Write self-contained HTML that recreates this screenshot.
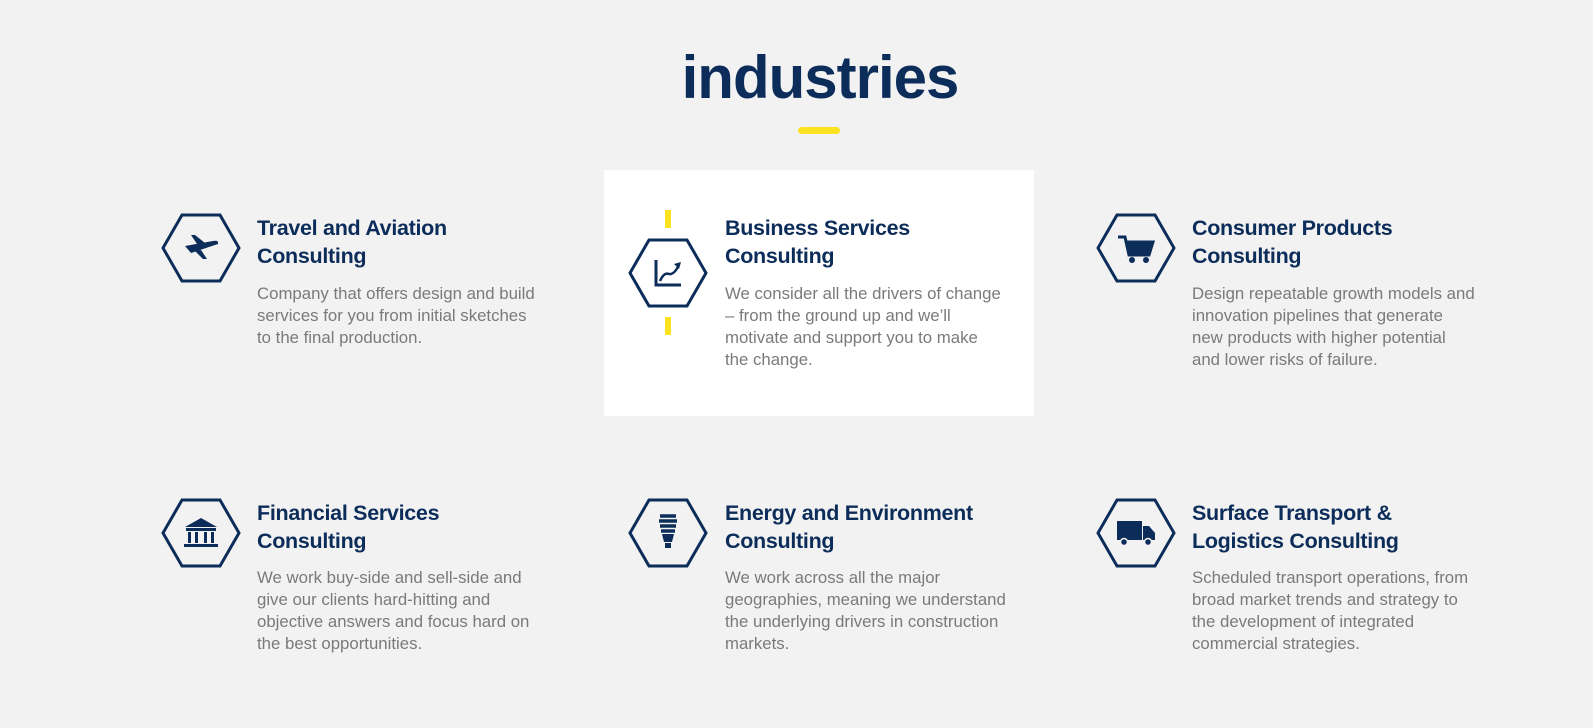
<!DOCTYPE html>
<html><head><meta charset="utf-8"><style>
*{margin:0;padding:0;box-sizing:border-box}
body{width:1593px;height:728px;background:#f2f2f2;position:relative;overflow:hidden;font-family:"Liberation Sans",sans-serif}
.t{position:absolute;left:0;width:1640px;text-align:center;top:43px;font-size:60px;font-weight:bold;color:#0c2c5a;letter-spacing:-1px}
.bar{position:absolute;left:798px;top:127px;width:42px;height:7px;border-radius:4px;background:#fbe321}
.card{position:absolute;left:604px;top:170px;width:430px;height:246px;background:#fff}
.hex{position:absolute;width:80px;height:70px}
.h{position:absolute;font-size:21.5px;font-weight:bold;color:#0c2c5a;line-height:28px;letter-spacing:-0.3px;width:340px}
.d{position:absolute;font-size:16.8px;color:#7a7a7a;line-height:22px;width:340px}
.y{position:absolute;width:6px;height:18px;background:#fbe321;left:665px}
</style></head><body>
<div class="t">industries</div>
<div class="bar"></div>
<div class="card"></div>
<div class="y" style="top:210px"></div>
<div class="y" style="top:317px"></div>

<svg class="hex" style="left:161px;top:213px" viewBox="0 0 80 70"><polygon points="21,2 59,2 78,35 59,68 21,68 2,35" fill="none" stroke="#0c2c5a" stroke-width="3"/><path d="M24,33 L52,28 Q58,27 57,31 L30,40 Z M36,31 L30,22 L34,22 L44,30 Z M40,37 L46,46 L42,46 L34,38 Z" fill="#0c2c5a"/></svg>
<div class="h" style="left:257px;top:214px">Travel and Aviation<br>Consulting</div>
<div class="d" style="left:257px;top:283px">Company that offers design and build<br>services for you from initial sketches<br>to the final production.</div>

<svg class="hex" style="left:628px;top:238px" viewBox="0 0 80 70"><polygon points="21,2 59,2 78,35 59,68 21,68 2,35" fill="none" stroke="#0c2c5a" stroke-width="3"/><path d="M28,22 V47 H53" fill="none" stroke="#0c2c5a" stroke-width="3"/><path d="M32,43 Q36,34 41,36 Q46,37 51,27" fill="none" stroke="#0c2c5a" stroke-width="2.5"/><path d="M46,26 L53,24 L51,31 Z" fill="#0c2c5a"/></svg>
<div class="h" style="left:725px;top:214px">Business Services<br>Consulting</div>
<div class="d" style="left:725px;top:283px">We consider all the drivers of change<br>– from the ground up and we’ll<br>motivate and support you to make<br>the change.</div>

<svg class="hex" style="left:1096px;top:213px" viewBox="0 0 80 70"><polygon points="21,2 59,2 78,35 59,68 21,68 2,35" fill="none" stroke="#0c2c5a" stroke-width="3"/><path d="M22,24 H29 L33,42 H53 L57,29 H31" fill="none" stroke="#0c2c5a" stroke-width="3"/><rect x="32" y="30" width="23" height="11" fill="#0c2c5a"/><circle cx="36" cy="47" r="3" fill="#0c2c5a"/><circle cx="50" cy="47" r="3" fill="#0c2c5a"/></svg>
<div class="h" style="left:1192px;top:214px">Consumer Products<br>Consulting</div>
<div class="d" style="left:1192px;top:283px">Design repeatable growth models and<br>innovation pipelines that generate<br>new products with higher potential<br>and lower risks of failure.</div>

<svg class="hex" style="left:161px;top:498px" viewBox="0 0 80 70"><polygon points="21,2 59,2 78,35 59,68 21,68 2,35" fill="none" stroke="#0c2c5a" stroke-width="3"/><path d="M24,29 L40,20 L56,29 Z" fill="#0c2c5a"/><rect x="25" y="30" width="30" height="3" fill="#0c2c5a"/><rect x="27" y="34" width="3" height="11" fill="#0c2c5a"/><rect x="34" y="34" width="3" height="11" fill="#0c2c5a"/><rect x="43" y="34" width="3" height="11" fill="#0c2c5a"/><rect x="50" y="34" width="3" height="11" fill="#0c2c5a"/><rect x="23" y="46" width="34" height="3" fill="#0c2c5a"/></svg>
<div class="h" style="left:257px;top:499px">Financial Services<br>Consulting</div>
<div class="d" style="left:257px;top:567px">We work buy-side and sell-side and<br>give our clients hard-hitting and<br>objective answers and focus hard on<br>the best opportunities.</div>

<svg class="hex" style="left:628px;top:498px" viewBox="0 0 80 70"><polygon points="21,2 59,2 78,35 59,68 21,68 2,35" fill="none" stroke="#0c2c5a" stroke-width="3"/><path d="M32,18 H48 M31,23 H49 M32,28 H48 M33,33 H47" stroke="#0c2c5a" stroke-width="3.5"/><path d="M34,36 H46 L44,44 H36 Z" fill="#0c2c5a"/><rect x="37" y="45" width="6" height="5" fill="#0c2c5a"/></svg>
<div class="h" style="left:725px;top:499px">Energy and Environment<br>Consulting</div>
<div class="d" style="left:725px;top:567px">We work across all the major<br>geographies, meaning we understand<br>the underlying drivers in construction<br>markets.</div>

<svg class="hex" style="left:1096px;top:498px" viewBox="0 0 80 70"><polygon points="21,2 59,2 78,35 59,68 21,68 2,35" fill="none" stroke="#0c2c5a" stroke-width="3"/><rect x="21" y="23" width="25" height="19" fill="#0c2c5a"/><path d="M47,28 H53 L59,35 V42 H47 Z" fill="#0c2c5a"/><circle cx="28" cy="44" r="3.5" fill="#0c2c5a" stroke="#f2f2f2" stroke-width="1.5"/><circle cx="52" cy="44" r="3.5" fill="#0c2c5a" stroke="#f2f2f2" stroke-width="1.5"/></svg>
<div class="h" style="left:1192px;top:499px">Surface Transport &amp;<br>Logistics Consulting</div>
<div class="d" style="left:1192px;top:567px">Scheduled transport operations, from<br>broad market trends and strategy to<br>the development of integrated<br>commercial strategies.</div>
</body></html>
